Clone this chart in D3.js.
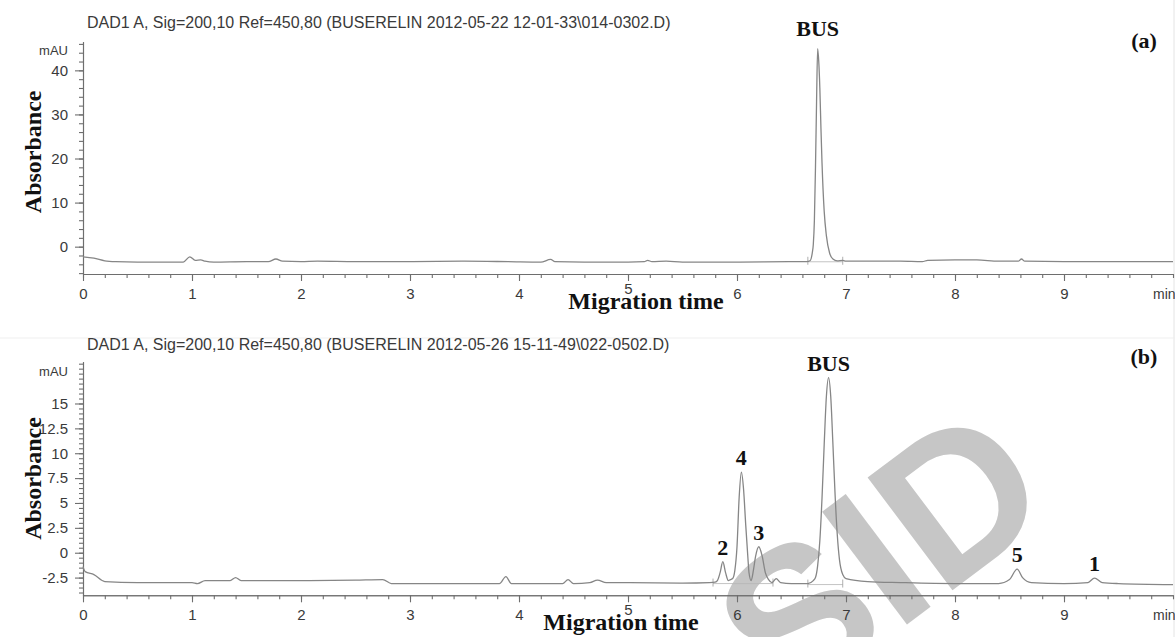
<!DOCTYPE html>
<meta charset="utf-8">
<head>
<script src="https://d3js.org/d3.v7.min.js"></script>
<style>
  body { margin: 0; background: #fff; }
  .tick text { font-family: "Liberation Sans", Arial, sans-serif; font-size: 15px; fill: #3a3a3a; }
  .axis path, .axis line { stroke: #6e6e6e; stroke-width: 1.1; }
  .ttl { font-family: "Liberation Sans", Arial, sans-serif; font-size: 16px; fill: #3a3a3a; }
  .bold { font-family: "Liberation Serif", "Times New Roman", serif; font-weight: bold; fill: #111; }
</style>
</head>
<body>
<div id="my_dataviz"></div>
<script>

// ---- data ----
// x axis (minutes)
var xLabels = ["0","1","2","3","4","5","6","7","8","9"];

// (a) standard: time (min) / absorbance (mAU)
var timeA = [0, 0.1, 0.2, 0.3, 0.5, 0.8, 0.92, 0.98, 1.03, 1.08, 1.12, 1.2, 1.5, 1.7, 1.77, 1.83, 2.0, 2.15, 2.5, 3.0,
  3.5, 3.9, 4.2, 4.29, 4.33, 4.6, 5.0, 5.15, 5.18, 5.22, 5.35, 5.5, 6.0, 6.5, 6.64, 6.67, 6.69, 6.70, 6.71, 6.72,
  6.73, 6.74, 6.75, 6.76, 6.77, 6.78, 6.80, 6.82, 6.85, 6.88, 6.92, 6.97, 7.0, 7.5, 7.7, 7.75, 8.0, 8.2, 8.4, 8.58,
  8.61, 8.64, 9.0, 9.5, 10.0];
var absA = [-2.3, -2.6, -3.2, -3.4, -3.5, -3.5, -3.5, -2.3, -3.1, -3.0, -3.3, -3.5, -3.4, -3.4, -2.8, -3.3, -3.4, -3.3, -3.4, -3.4,
  -3.3, -3.4, -3.5, -2.9, -3.4, -3.5, -3.5, -3.4, -3.1, -3.4, -3.3, -3.5, -3.5, -3.4, -3.4, -3.2, -1.5, 0.5, 6, 18,
  33, 44.9, 42, 36, 27, 19, 8, 2.5, -1.5, -2.8, -3.2, -3.1, -3.3, -3.3, -3.4, -3.1, -3.0, -3.0, -3.3, -3.3,
  -2.8, -3.3, -3.4, -3.4, -3.4];

// (b) sample
var timeB = [0, 0.02, 0.1, 0.2, 0.5, 1.0, 1.05, 1.12, 1.35, 1.4, 1.45, 2.0, 2.5, 2.75, 2.83, 3.0, 3.5, 3.82, 3.88, 3.93,
  4.4, 4.45, 4.5, 4.65, 4.72, 4.8, 5.0, 5.5, 5.75, 5.80, 5.82, 5.845, 5.87, 5.895, 5.92, 5.94, 5.96, 5.98, 6.00,
  6.02, 6.04, 6.06, 6.08, 6.10, 6.11, 6.13, 6.15, 6.17, 6.20, 6.23, 6.26, 6.29, 6.32, 6.36, 6.40, 6.5, 6.65, 6.70, 6.72,
  6.74, 6.76, 6.78, 6.80, 6.82, 6.84, 6.86, 6.88, 6.90, 6.92, 6.94, 6.97, 7.0, 7.2, 7.5, 8.0, 8.4, 8.5, 8.57, 8.62,
  8.7, 9.0, 9.22, 9.28, 9.35, 9.5, 10.0];
var absB = [-1.4, -1.9, -2.2, -2.9, -3.0, -3.0, -3.1, -2.8, -2.8, -2.5, -2.8, -2.8, -2.75, -2.7, -3.1, -3.1, -3.1, -3.1, -2.4, -3.1,
  -3.1, -2.7, -3.1, -3.0, -2.75, -3.0, -3.0, -3.05, -3.0, -2.95, -2.8, -2.0, -0.9, -2.0, -2.8, -2.7, -2.6, -1.8, 0.6,
  5.6, 8.1, 6.4, 2.8, -0.5, -2.0, -2.8, -1.8, -0.4, 0.6, -0.3, -2.0, -2.7, -3.0, -2.6, -3.0, -3.1, -3.1, -2.8, -2.5,
  -1.3, 1.2, 5.5, 10.9, 15.7, 17.6, 15.7, 10.9, 5.8, 1.8, -0.7, -2.2, -2.6, -2.9, -3.0, -3.1, -3.1, -2.7, -1.65, -2.5,
  -3.0, -3.1, -3.0, -2.55, -3.0, -3.1, -3.2];

// peak labels
var peakNamesA = ["BUS"];
var peakTimesA = [6.74];
var peakTopsA = [44.9];
var peakNamesB = ["2", "4", "3", "BUS", "5", "1"];
var peakTimesB = [5.87, 6.04, 6.20, 6.84, 8.57, 9.28];
var peakTopsB = [-0.9, 8.1, 0.6, 17.6, -1.65, -2.55];

// integration windows (start/end of baseline drawn under the peaks)
var integA = [[6.65, 6.97]];
var integB = [[5.78, 6.33], [6.65, 6.97]];

// y ticks
var yMajorA = [0, 10, 20, 30, 40];
var yMajorB = [-2.5, 0, 2.5, 5, 7.5, 10, 12.5, 15];

var titles = ["DAD1 A, Sig=200,10 Ref=450,80 (BUSERELIN 2012-05-22 12-01-33\\014-0302.D)",
              "DAD1 A, Sig=200,10 Ref=450,80 (BUSERELIN 2012-05-26 15-11-49\\022-0502.D)"];

// ---- drawing ----
var W = 1175, H = 637;
var svg = d3.select("#my_dataviz").append("svg")
  .attr("width", W).attr("height", H);

// faint frame lines of the scanned figure
svg.append("line").attr("x1", 1174).attr("x2", 1174).attr("y1", 0).attr("y2", H)
  .attr("stroke", "#e4e4e4").attr("stroke-width", 1);
svg.append("line").attr("x1", 0).attr("x2", W).attr("y1", 338).attr("y2", 338)
  .attr("stroke", "#efefef").attr("stroke-width", 1);

// watermark
svg.append("text")
  .attr("transform", "translate(880,555) rotate(-37)")
  .attr("text-anchor", "middle")
  .attr("dy", "0.35em")
  .style("font-family", "Liberation Sans, Arial, sans-serif")
  .style("font-weight", "bold")
  .style("font-size", "205px")
  .style("fill", "#c6c6c6")
  .text("SID");

var x = d3.scaleLinear().domain([0, 10]).range([83, 1173]);

var panels = [
  { time: timeA, abs: absA, dom: [-6.2, 46.5], rng: [274, 41.7], major: yMajorA, minorStep: 2, minorLo: -6, minorHi: 46,
    names: peakNamesA, ptimes: peakTimesA, ptops: peakTopsA, lblOff: 13, integ: integA, tag: "(a)",
    title: titles[0], titleY: 28, mauY: 55, tagY: 48, xlabY: 309, xlabX: 646, absShift: -6 },
  { time: timeB, abs: absB, dom: [-4.28, 19.2], rng: [595.3, 361.7], major: yMajorB, minorStep: 0.5, minorLo: -4, minorHi: 19,
    names: peakNamesB, ptimes: peakTimesB, ptops: peakTopsB, lblOff: 7, integ: integB, tag: "(b)",
    title: titles[1], titleY: 350, mauY: 376, tagY: 364, xlabY: 630, xlabX: 621, absShift: 0 }
];

panels.forEach(function(p) {
  var y = d3.scaleLinear().domain(p.dom).range(p.rng);
  var y0 = p.rng[0];

  // x axis: minor then major ticks
  svg.append("g").attr("class", "axis")
    .attr("transform", "translate(0," + y0 + ")")
    .call(d3.axisBottom(x).tickValues(d3.range(0, 10.01, 0.2)).tickSize(4).tickSizeOuter(0).tickFormat(""));
  var xg = svg.append("g").attr("class", "axis")
    .attr("transform", "translate(0," + y0 + ")")
    .call(d3.axisBottom(x).tickValues(xLabels.map(Number)).tickSize(7).tickSizeOuter(0).tickPadding(7)
      .tickFormat(function(d) { return xLabels[d]; }));
  // the "5" sits a little higher, just above the axis title
  xg.selectAll(".tick text").filter(function(d) { return d === 5; }).attr("y", 9);

  // y axis
  svg.append("g").attr("class", "axis")
    .attr("transform", "translate(83,0)")
    .call(d3.axisLeft(y).tickValues(d3.range(p.minorLo, p.minorHi + 0.01, p.minorStep)).tickSize(4).tickSizeOuter(0).tickFormat(""));
  svg.append("g").attr("class", "axis")
    .attr("transform", "translate(83,0)")
    .call(d3.axisLeft(y).tickValues(p.major).tickSize(8).tickSizeOuter(0).tickPadding(7)
      .tickFormat(function(d) { return String(d); }));

  // integration baselines and markers
  p.integ.forEach(function(w) {
    var yb = y(d3.min(p.abs.filter(function(v, i) { return p.time[i] >= w[0] && p.time[i] <= w[1]; })));
    svg.append("line").attr("x1", x(w[0])).attr("x2", x(w[1])).attr("y1", yb + 1).attr("y2", yb + 1)
      .attr("stroke", "#b5b5b5").attr("stroke-width", 0.8);
    w.forEach(function(t) {
      svg.append("line").attr("x1", x(t)).attr("x2", x(t)).attr("y1", yb - 4).attr("y2", yb + 4)
        .attr("stroke", "#9a9a9a").attr("stroke-width", 0.8);
    });
  });

  // trace
  var pts = p.time.map(function(t, i) { return [t, p.abs[i]]; });
  svg.append("path")
    .datum(pts)
    .attr("d", d3.line().curve(d3.curveMonotoneX)
      .x(function(d) { return x(d[0]); })
      .y(function(d) { return y(d[1]); }))
    .attr("fill", "none")
    .attr("stroke", "#868686")
    .attr("stroke-width", 1.3);

  // peak labels
  svg.selectAll(null).data(p.names).enter().append("text")
    .attr("class", "bold")
    .attr("x", function(d, i) { return x(p.ptimes[i]); })
    .attr("y", function(d, i) { return y(p.ptops[i]) - p.lblOff; })
    .attr("text-anchor", "middle")
    .style("font-size", "22px")
    .text(function(d) { return d; });

  // texts
  svg.append("text").attr("class", "ttl").attr("x", 87).attr("y", p.titleY).text(p.title);
  svg.append("text").attr("class", "ttl").attr("x", 68).attr("y", p.mauY)
    .attr("text-anchor", "end").style("font-size", "13px").text("mAU");
  svg.append("text").attr("class", "ttl").attr("x", 1153).attr("y", y0 + 25)
    .style("font-size", "14px").text("min");
  svg.append("text").attr("class", "bold").attr("x", 1144).attr("y", p.tagY)
    .attr("text-anchor", "middle").style("font-size", "22px").text(p.tag);
  svg.append("text").attr("class", "bold").attr("x", p.xlabX).attr("y", p.xlabY)
    .attr("text-anchor", "middle").style("font-size", "24px").text("Migration time");
  svg.append("text").attr("class", "bold")
    .attr("transform", "translate(41," + ((p.rng[0] + p.rng[1]) / 2 + p.absShift) + ") rotate(-90)")
    .attr("text-anchor", "middle").style("font-size", "24px").text("Absorbance");
});

</script>
</body>
